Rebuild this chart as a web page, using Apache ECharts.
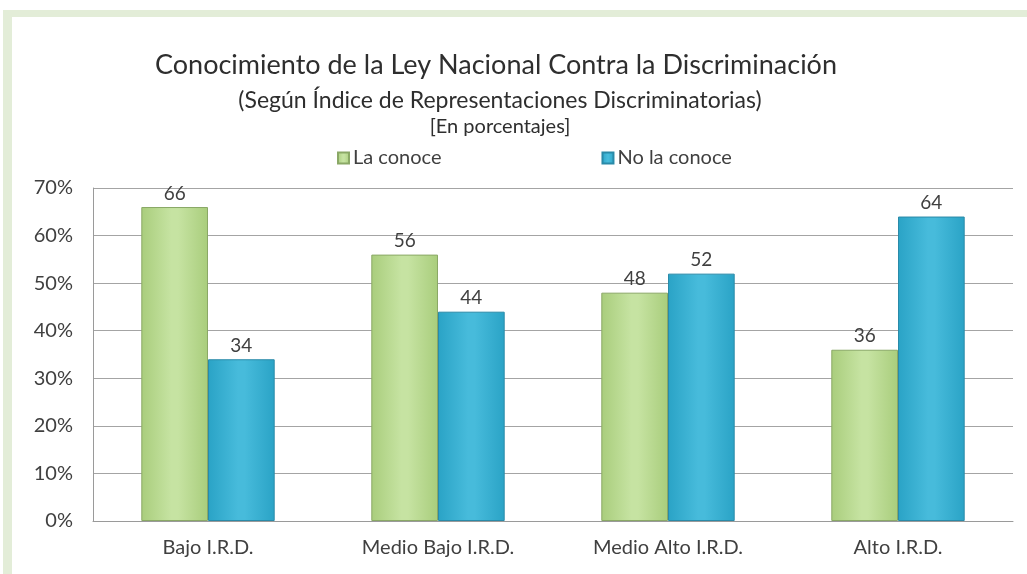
<!DOCTYPE html>
<html>
<head>
<meta charset="utf-8">
<script src="https://cdn.jsdelivr.net/npm/echarts@6/dist/echarts.min.js"></script>
<style>
  * { margin: 0; padding: 0; }
  body { width: 1027px; height: 574px; background: #fff; overflow: hidden; position: relative; }
  .frame-top { position: absolute; left: 3px; top: 10px; width: 1024px; height: 7px; background: #e3edd8; }
  .frame-left { position: absolute; left: 3px; top: 10px; width: 9px; height: 564px; background: #e3edd8; }
  #chart { position: absolute; left: 0; top: 0; width: 1027px; height: 574px; }
</style>
</head>
<body>
<div class="frame-top"></div>
<div class="frame-left"></div>
<div id="chart"></div>
<script>
// categorias del eje x
const categorias = ["Bajo I.R.D.", "Medio Bajo I.R.D.", "Medio Alto I.R.D.", "Alto I.R.D."];
// porcentajes por serie
const laConoce = [66, 56, 48, 36];
const noLaConoce = [34, 44, 52, 64];
// eje y
const ejeMin = 0;
const ejeMax = 70;
const ejeIntervalo = 10;

const fuente = "Lato, 'Open Sans', sans-serif";
const gris = "#404040";

const chart = echarts.init(document.getElementById("chart"));

// degradado horizontal para simular el relieve de las barras
function relieve(borde, centro) {
  return new echarts.graphic.LinearGradient(0, 0, 1, 0, [
    { offset: 0, color: borde },
    { offset: 0.45, color: centro },
    { offset: 0.55, color: centro },
    { offset: 1, color: borde },
  ]);
}

const option = {
  backgroundColor: "transparent",
  textStyle: { fontFamily: fuente },
  title: [
    {
      text: "Conocimiento de la Ley Nacional Contra la Discriminación",
      left: 491, top: 47, textAlign: "center",
      textStyle: { fontFamily: fuente, fontSize: 27, fontWeight: "normal", color: "#2e2e2e" },
    },
    {
      text: "(Según Índice de Representaciones Discriminatorias)",
      left: 495, top: 84, textAlign: "center",
      textStyle: { fontFamily: fuente, fontSize: 23, fontWeight: "normal", color: "#2e2e2e" },
    },
    {
      text: "[En porcentajes]",
      left: 495, top: 112, textAlign: "center",
      textStyle: { fontFamily: fuente, fontSize: 20, fontWeight: "normal", color: "#2e2e2e" },
    },
  ],
  legend: {
    data: ["La conoce", "No la conoce"],
    left: 337, top: 148, padding: 0,
    itemWidth: 11, itemHeight: 11, itemGap: 160,
    icon: "rect",
    textStyle: { fontFamily: fuente, fontSize: 20, color: gris, padding: [0, 0, 0, -1] },
  },
  grid: { left: 93, right: 14, top: 188, bottom: 53 },
  xAxis: {
    type: "category",
    data: categorias,
    axisLine: { lineStyle: { color: "#9a9a9a", width: 1 } },
    axisTick: { show: false },
    axisLabel: { fontFamily: fuente, fontSize: 20, color: gris, margin: 17 },
  },
  yAxis: {
    type: "value",
    min: ejeMin, max: ejeMax, interval: ejeIntervalo,
    axisLine: { show: true, lineStyle: { color: "#9a9a9a", width: 1 } },
    axisTick: { show: false },
    axisLabel: { formatter: "{value}%", fontFamily: fuente, fontSize: 20, color: gris, margin: 20 },
    splitLine: { lineStyle: { color: "#a4a4a4", width: 1 } },
  },
  series: [
    {
      name: "La conoce",
      type: "bar",
      data: laConoce,
      barGap: "0%",
      barCategoryGap: "42%",
      itemStyle: { color: relieve("#a9cd7c", "#c6e3a2"), borderColor: "#8aa866", borderWidth: 1 },
      label: { show: true, position: "top", distance: 4, fontFamily: fuente, fontSize: 19, color: gris },
    },
    {
      name: "No la conoce",
      type: "bar",
      data: noLaConoce,
      itemStyle: { color: relieve("#2aa3c6", "#47bbdb"), borderColor: "#2a8aa8", borderWidth: 1 },
      label: { show: true, position: "top", distance: 4, fontFamily: fuente, fontSize: 19, color: gris },
    },
  ],
};

chart.setOption(option);
</script>
</body>
</html>
